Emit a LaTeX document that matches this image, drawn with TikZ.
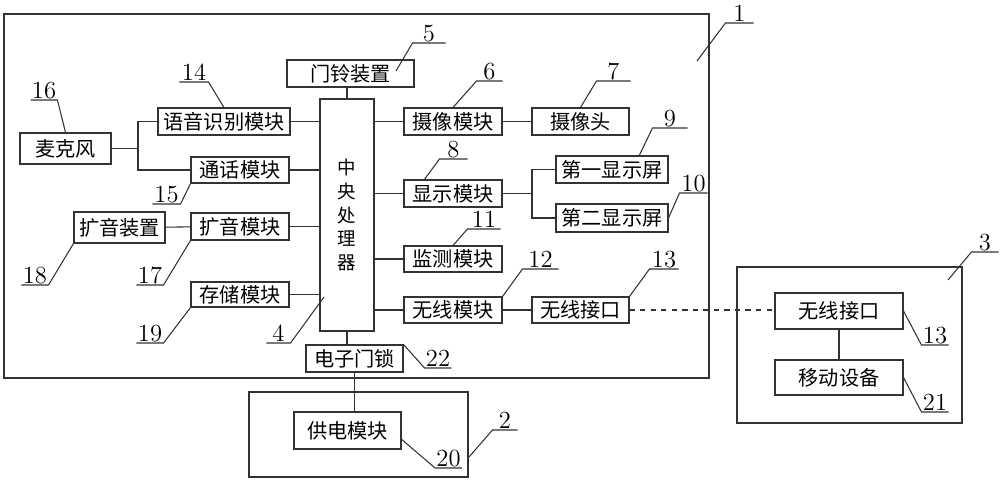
\documentclass[tikz,border=0pt]{standalone}
\usepackage{fontspec}
\newfontfamily\cjk{Noto Sans CJK SC}

\begin{document}
\begin{tikzpicture}[x=0.02cm, y=-0.02cm, line width=0.6pt, draw=black!80,
	box/.style={draw, inner sep=0pt, font=\cjk\fontsize{11.5pt}{11.5pt}\selectfont},
	num/.style={inner sep=0.5pt, anchor=south, font=\fontsize{14pt}{14pt}\selectfont},
	frame/.style={draw, line width=0.8pt}]
	\useasboundingbox (0,0) rectangle (1000,480);

	\draw[frame] (4,14) rectangle (709,378);
	\draw[frame] (249,392) rectangle (468,477);
	\draw[frame] (737,267) rectangle (962,423);

	\node[box, minimum width=2.54cm, minimum height=0.54cm] (bell) at (350.5,73.5) {门铃装置};
	\node[box, minimum width=1.08cm, minimum height=4.64cm, align=center,
		font=\cjk\fontsize{10.5pt}{13.6pt}\selectfont] (cpu) at (347,215) {中\\央\\处\\理\\器};
	\node[box, minimum width=1.96cm, minimum height=0.54cm] (cam) at (453,121.5) {摄像模块};
	\node[box, minimum width=1.94cm, minimum height=0.54cm] (camera) at (580.5,121.5) {摄像头};
	\node[box, minimum width=2.24cm, minimum height=0.54cm] (screen1) at (612,169.5) {第一显示屏};
	\node[box, minimum width=1.96cm, minimum height=0.54cm] (disp) at (453,193.5) {显示模块};
	\node[box, minimum width=2.24cm, minimum height=0.56cm] (screen2) at (612,218) {第二显示屏};
	\node[box, minimum width=1.96cm, minimum height=0.52cm] (monitor) at (453,259) {监测模块};
	\node[box, minimum width=1.96cm, minimum height=0.52cm] (wmod) at (453,310) {无线模块};
	\node[box, minimum width=1.94cm, minimum height=0.52cm] (wiface) at (580.5,310) {无线接口};
	\node[box, minimum width=2.64cm, minimum height=0.54cm] (voice) at (224,121.5) {语音识别模块};
	\node[box, minimum width=1.96cm, minimum height=0.52cm] (call) at (240,170) {通话模块};
	\node[box, minimum width=1.82cm, minimum height=0.62cm] (mic) at (65.5,148.5) {麦克风};
	\node[box, minimum width=1.82cm, minimum height=0.62cm] (spk) at (119.5,227.5) {扩音装置};
	\node[box, minimum width=1.96cm, minimum height=0.54cm] (amp) at (240,226.5) {扩音模块};
	\node[box, minimum width=1.96cm, minimum height=0.50cm] (storage) at (240,294.5) {存储模块};
	\node[box, minimum width=1.94cm, minimum height=0.54cm] (lock) at (354.5,358.5) {电子门锁};
	\node[box, minimum width=2.14cm, minimum height=0.74cm] (power) at (347.5,430.5) {供电模块};
	\node[box, minimum width=2.56cm, minimum height=0.72cm] (mface) at (839,311) {无线接口};
	\node[box, minimum width=2.56cm, minimum height=0.70cm] (mdev) at (839,377.5) {移动设备};

	\coordinate (dsplit) at (532,193.5);
	\coordinate (msplit) at (138,148.5);

	\draw (cpu.north) -- (cpu.north |- bell.south);
	\draw (cam.west) -- (cam.west -| cpu.east);
	\draw (disp.west) -- (disp.west -| cpu.east);
	\draw (monitor.west) -- (monitor.west -| cpu.east);
	\draw (wmod.west) -- (wmod.west -| cpu.east);
	\draw (cam) -- (camera);
	\draw (wmod) -- (wiface);
	\draw (disp.east) -- (dsplit);
	\draw (screen1.west) -| (dsplit) |- (screen2.west);
	\draw (voice.east) -- (voice.east -| cpu.west);
	\draw (call.east) -- (call.east -| cpu.west);
	\draw (amp.east) -- (amp.east -| cpu.west);
	\draw (storage.east) -- (storage.east -| cpu.west);
	\draw (mic.east) -- (msplit);
	\draw (voice.west) -| (msplit) |- (call.west);
	\draw (spk) -- (amp);
	\draw (cpu.south) -- (cpu.south |- lock.north);
	\draw (lock.south) -- (lock.south |- power.north);
	\draw[dashed] (wiface.east) -- (wiface.east -| mface.west);
	\draw (mface) -- (mdev);

	\node[num, minimum width=0.54cm] (n1) at (739.5,23) {1};
	\node[num, minimum width=0.64cm] (n5) at (429,43) {5};
	\node[num, minimum width=0.50cm] (n6) at (489.5,81) {6};
	\node[num, minimum width=0.66cm] (n7) at (613.5,81) {7};
	\node[num, minimum width=0.68cm] (n9) at (670,128) {9};
	\node[num, minimum width=0.54cm] (n8) at (453.5,159) {8};
	\node[num, minimum width=0.54cm] (n10) at (693.5,193) {10};
	\node[num, minimum width=0.64cm] (n11) at (484,229) {11};
	\node[num, minimum width=0.70cm] (n12) at (540.5,269) {12};
	\node[num, minimum width=0.56cm] (n13) at (664,269) {13};
	\node[num, minimum width=0.46cm] (n22) at (438,368) {22};
	\node[num, minimum width=0.46cm] (n4) at (278.5,343) {4};
	\node[num, minimum width=0.52cm] (n19) at (150,343) {19};
	\node[num, minimum width=0.52cm] (n17) at (150,285) {17};
	\node[num, minimum width=0.52cm] (n18) at (35,285) {18};
	\node[num, minimum width=0.54cm] (n15) at (166.5,204) {15};
	\node[num, minimum width=0.44cm] (n16) at (44,100) {16};
	\node[num, minimum width=0.56cm] (n14) at (194,82) {14};
	\node[num, minimum width=0.48cm] (n2) at (505,430) {2};
	\node[num, minimum width=0.46cm] (n20) at (448.5,468) {20};
	\node[num, minimum width=0.52cm] (n3) at (985,252) {3};
	\node[num, minimum width=0.52cm] (n13b) at (935,345) {13};
	\node[num, minimum width=0.52cm] (n21) at (935,412) {21};

	\coordinate (p1) at (697,61);
	\coordinate (p5) at (396,71);
	\coordinate (p9) at (639,156);
	\coordinate (p8) at (424,180);
	\coordinate (p4) at (324,297);
	\coordinate (p2) at (469,457);
	\coordinate (p20) at (400,438);
	\coordinate (p3) at (948,280);

	\draw (p1) -- (n1.south west) -- (n1.south east);
	\draw (p5) -- (n5.south west) -- (n5.south east);
	\draw (cam.north) -- (n6.south west) -- (n6.south east);
	\draw (camera.north) -- (n7.south west) -- (n7.south east);
	\draw (p9) -- (n9.south west) -- (n9.south east);
	\draw (p8) -- (n8.south west) -- (n8.south east);
	\draw (screen2.east) -- (n10.south west) -- (n10.south east);
	\draw (monitor.north) -- (n11.south west) -- (n11.south east);
	\draw (wmod.north east) -- (n12.south west) -- (n12.south east);
	\draw (wiface.north east) -- (n13.south west) -- (n13.south east);
	\draw (lock.north east) -- (n22.south west) -- (n22.south east);
	\draw (p4) -- (n4.south east) -- (n4.south west);
	\draw (storage.south west) -- (n19.south east) -- (n19.south west);
	\draw (amp.south west) -- (n17.south east) -- (n17.south west);
	\draw (spk.south west) -- (n18.south east) -- (n18.south west);
	\draw (call.south west) -- (n15.south east) -- (n15.south west);
	\draw (mic.north) -- (n16.south east) -- (n16.south west);
	\draw (voice.north) -- (n14.south east) -- (n14.south west);
	\draw (p2) -- (n2.south west) -- (n2.south east);
	\draw (p20) -- (n20.south west) -- (n20.south east);
	\draw (p3) -- (n3.south west) -- (n3.south east);
	\draw (mface.east) -- (n13b.south west) -- (n13b.south east);
	\draw (mdev.east) -- (n21.south west) -- (n21.south east);
\end{tikzpicture}
\end{document}
